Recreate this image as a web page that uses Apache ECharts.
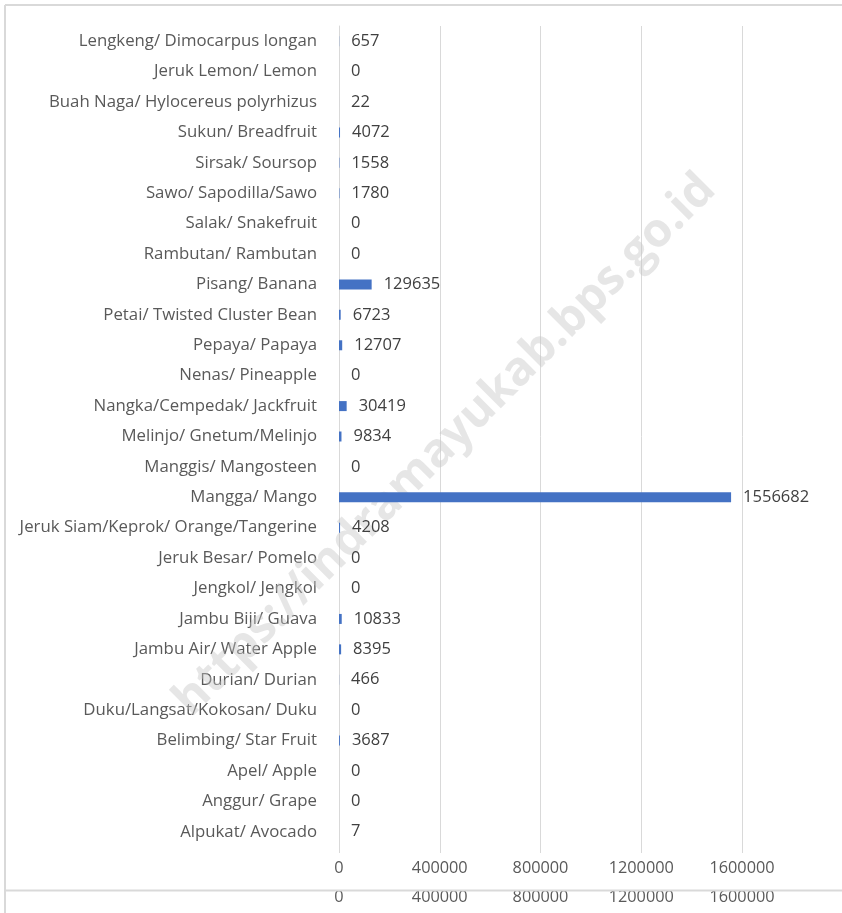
<!DOCTYPE html>
<html>
<head>
<meta charset="utf-8">
<script src="https://cdn.jsdelivr.net/npm/echarts@6/dist/echarts.min.js"></script>
<style>
  html, body { margin: 0; padding: 0; background: #fff; }
  #chart { width: 842px; height: 913px; }
</style>
</head>
<body>
<div id="chart"></div>
<script>
// categories from bottom to top
const categories = [
  'Alpukat/ Avocado',
  'Anggur/ Grape',
  'Apel/ Apple',
  'Belimbing/ Star Fruit',
  'Duku/Langsat/Kokosan/ Duku',
  'Durian/ Durian',
  'Jambu Air/ Water Apple',
  'Jambu Biji/ Guava',
  'Jengkol/ Jengkol',
  'Jeruk Besar/ Pomelo',
  'Jeruk Siam/Keprok/ Orange/Tangerine',
  'Mangga/ Mango',
  'Manggis/ Mangosteen',
  'Melinjo/ Gnetum/Melinjo',
  'Nangka/Cempedak/ Jackfruit',
  'Nenas/ Pineapple',
  'Pepaya/ Papaya',
  'Petai/ Twisted Cluster Bean',
  'Pisang/ Banana',
  'Rambutan/ Rambutan',
  'Salak/ Snakefruit',
  'Sawo/ Sapodilla/Sawo',
  'Sirsak/ Soursop',
  'Sukun/ Breadfruit',
  'Buah Naga/ Hylocereus polyrhizus',
  'Jeruk Lemon/ Lemon',
  'Lengkeng/ Dimocarpus longan'
]
const production = [
  7, 0, 0, 3687, 0, 466, 8395, 10833, 0, 0, 4208, 1556682, 0, 9834,
  30419, 0, 12707, 6723, 129635, 0, 0, 1780, 1558, 4072, 22, 0, 657
]
const xTicks = [0, 400000, 800000, 1200000, 1600000]

const font = '"Open Sans", "Noto Sans", sans-serif'
const textColor = '#595959'

const chart = echarts.init(document.getElementById('chart'), null, { renderer: 'canvas' })

const tickLabel = {
  color: textColor,
  fontFamily: font,
  fontSize: 16.3,
  margin: 13,
  formatter: v => String(v)
}

chart.setOption({
  animation: false,
  backgroundColor: '#ffffff',
  grid: { left: 339, right: 100, top: 26, bottom: 66 },
  xAxis: [
    {
      type: 'value',
      min: xTicks[0],
      max: xTicks[xTicks.length - 1],
      interval: xTicks[1] - xTicks[0],
      axisLine: { show: false },
      axisTick: { show: true, length: 6, lineStyle: { color: '#d9d9d9' } },
      splitLine: { show: true, lineStyle: { color: '#d9d9d9', width: 1 } },
      axisLabel: tickLabel
    },
    {
      // ghost copy of the tick labels, partly hidden below the frame line
      type: 'value',
      position: 'bottom',
      offset: 29,
      min: xTicks[0],
      max: xTicks[xTicks.length - 1],
      interval: xTicks[1] - xTicks[0],
      axisLine: { show: false },
      axisTick: { show: false },
      splitLine: { show: false },
      axisLabel: tickLabel
    }
  ],
  yAxis: {
    type: 'category',
    data: categories,
    axisLine: { show: true, lineStyle: { color: '#d9d9d9' } },
    axisTick: { show: false },
    axisLabel: { color: textColor, fontFamily: font, fontSize: 16.8, margin: 22 }
  },
  series: [
    {
      type: 'bar',
      data: production,
      barWidth: 10,
      z: 3,
      itemStyle: { color: '#4472c4' },
      label: {
        show: true,
        position: 'right',
        distance: 12,
        color: '#404040',
        fontFamily: font,
        fontSize: 16.5
      }
    }
  ],
  graphic: [
    {
      type: 'text',
      z: 1,
      x: 445,
      y: 445,
      rotation: Math.PI / 4,
      style: {
        text: 'https://indramayukab.bps.go.id',
        font: 'bold 47px "Open Sans", sans-serif',
        fill: 'rgba(195,195,195,0.42)',
        textAlign: 'center',
        textVerticalAlign: 'middle'
      }
    },
    {
      type: 'rect',
      z: 100,
      shape: { x: 6, y: 877, width: 836, height: 13 },
      style: { fill: '#ffffff' }
    },
    {
      type: 'line',
      z: 101,
      shape: { x1: 5, y1: 890.5, x2: 842, y2: 890.5 },
      style: { stroke: '#d9d9d9', lineWidth: 2 }
    },
    {
      type: 'line',
      z: 101,
      shape: { x1: 5, y1: 5, x2: 842, y2: 5 },
      style: { stroke: '#d9d9d9', lineWidth: 2 }
    },
    {
      type: 'line',
      z: 101,
      shape: { x1: 5, y1: 5, x2: 5, y2: 913 },
      style: { stroke: '#d9d9d9', lineWidth: 2 }
    }
  ]
})
</script>
</body>
</html>
